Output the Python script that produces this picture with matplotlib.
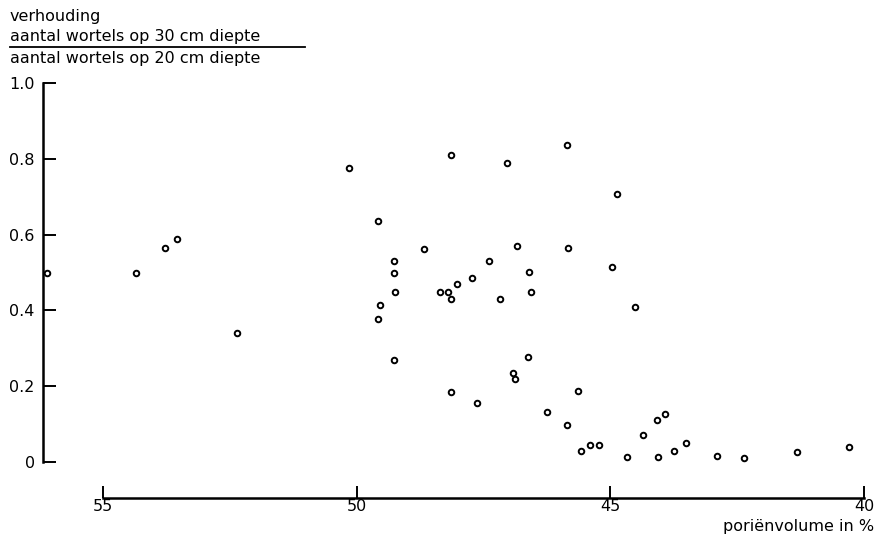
import matplotlib
matplotlib.use("Agg")
import matplotlib.pyplot as plt
from matplotlib.lines import Line2D

# Data: porosity (%) vs ratio of root counts at 30 cm / 20 cm depth
porosity = [56.11, 54.35, 53.78, 53.53, 52.36,
            50.15, 49.57, 49.27, 49.27, 49.24, 49.54, 49.58, 49.26,
            48.67, 48.36, 48.19, 48.13, 48.14, 48.03, 47.73, 47.39,
            47.18, 47.03, 46.83, 46.61, 46.56, 46.63, 46.92, 46.87,
            48.14, 47.63,
            45.86, 45.84, 44.87, 44.97, 44.52,
            45.64, 46.25, 45.86, 45.57, 45.39, 45.23, 44.67, 44.36,
            44.08, 43.93, 44.05, 43.75, 43.51, 42.90, 42.36, 41.32, 40.29]
ratio = [0.50, 0.50, 0.565, 0.588, 0.341,
         0.775, 0.636, 0.530, 0.498, 0.448, 0.415, 0.377, 0.268,
         0.562, 0.448, 0.449, 0.429, 0.810, 0.470, 0.486, 0.530,
         0.430, 0.790, 0.571, 0.501, 0.449, 0.277, 0.235, 0.218,
         0.185, 0.155,
         0.836, 0.564, 0.706, 0.515, 0.410,
         0.187, 0.133, 0.098, 0.029, 0.046, 0.046, 0.014, 0.071,
         0.111, 0.127, 0.013, 0.030, 0.051, 0.017, 0.011, 0.026, 0.040]

xticks = [55, 50, 45, 40]
yticks = [0, 0.2, 0.4, 0.6, 0.8, 1.0]
yticklabels = ["0", "0.2", "0.4", "0.6", "0.8", "1.0"]

W, H = 876, 535
fig = plt.figure(figsize=(W / 100, H / 100), dpi=100)
plt.rcParams['font.family'] = ['DejaVu Sans']

# axes in pixel terms
left_px, right_px, top_px, bottom_px = 43, 866, 80, 498
ax = fig.add_axes([left_px / W, (H - bottom_px) / H,
                   (right_px - left_px) / W, (bottom_px - top_px) / H])

ax.plot(porosity, ratio, linestyle='none', marker='o', ms=4.0,
        mfc='white', mec='black', mew=1.4)

ax.set_xlim(56.18, 39.96)
ax.set_ylim(-0.095, 1.008)

for s in ['top', 'right']:
    ax.spines[s].set_visible(False)
ax.spines['left'].set_bounds(0, 1)
ax.spines['bottom'].set_bounds(40, 55)
ax.spines['left'].set_linewidth(1.8)
ax.spines['bottom'].set_linewidth(1.8)

ax.set_xticks(xticks)
ax.set_xticklabels([str(t) for t in xticks])
ax.set_yticks(yticks)
ax.set_yticklabels(yticklabels)
ax.tick_params(axis='both', direction='in', length=9, width=1.4,
               labelsize=11.5, colors='black')
ax.tick_params(axis='y', pad=6)
ax.tick_params(axis='x', pad=1)

def fx(px):
    return px / W

def fy(py):
    return 1 - py / H

fs = 11.5
fig.text(fx(10), fy(16), "verhouding", fontsize=fs, ha='left', va='center')
fig.text(fx(10), fy(37), "aantal wortels op 30 cm diepte", fontsize=fs,
         ha='left', va='center')
fig.add_artist(Line2D([fx(10), fx(305)], [fy(47), fy(47)], color='black',
                      lw=1.3, transform=fig.transFigure))
fig.text(fx(10), fy(59), "aantal wortels op 20 cm diepte", fontsize=fs,
         ha='left', va='center')

fig.text(fx(874), fy(526), "poriënvolume in %", fontsize=fs,
         ha='right', va='center')

fig.savefig("out.png", dpi=100, facecolor='white')
